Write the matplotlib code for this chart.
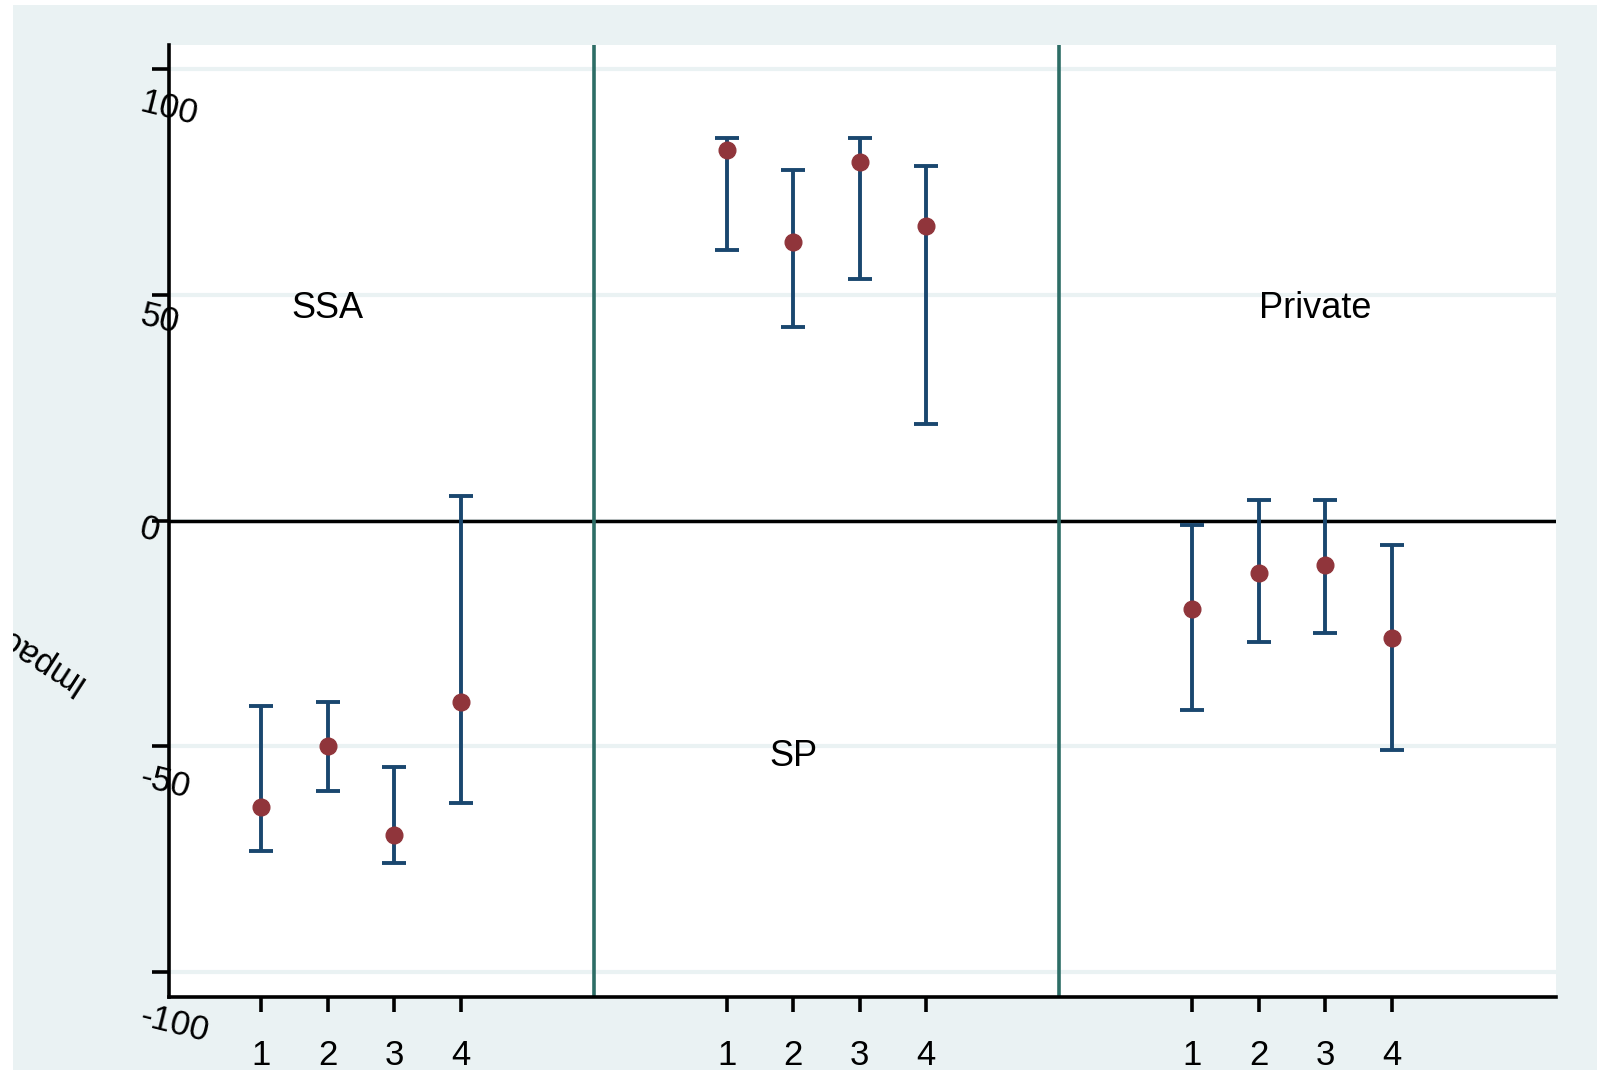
import matplotlib
matplotlib.use("Agg")
import matplotlib.pyplot as plt
import matplotlib.transforms as mtransforms
from matplotlib.patches import Rectangle
import numpy as np

plt.rcParams['font.family'] = ['Liberation Sans', 'DejaVu Sans']

# data
xpos = [1, 2, 3, 4, 8, 9, 10, 11, 15, 16, 17, 18]
xlabels = ['1', '2', '3', '4'] * 3
est = np.array([-63.4, -50.0, -69.6, -40.2, 82.1, 61.6, 79.5, 65.2, -19.6, -11.6, -9.8, -25.9])
lo = np.array([-73.2, -59.8, -75.8, -62.5, 59.8, 42.9, 53.5, 21.4, -42.0, -26.8, -25.0, -50.9])
hi = np.array([-41.1, -40.2, -54.5, 5.4, 84.8, 77.6, 84.8, 78.5, -0.9, 4.5, 4.5, -5.4])
groups = ['SSA', 'SP', 'Private']
group_x = [2, 9, 16.85]
group_y = [47, -52.3, 47]
dividers = [6, 13]
yticks = [-100, -50, 0, 50, 100]

bg = '#eaf2f3'
navy = '#1a476f'
maroon = '#90353b'
teal = '#2d6d66'

W, H = 1597, 1070
fig = plt.figure(figsize=(W / 100, H / 100), dpi=100)
fig.patch.set_facecolor('white')
bgrect = Rectangle((13 / W, 0), 1 - 13 / W, 1 - 5 / H, transform=fig.transFigure,
                   facecolor=bg, edgecolor='none', zorder=-5)
fig.patches.append(bgrect)

ax = fig.add_axes([169 / W, 1 - 997 / H, (1556 - 169) / W, (997 - 45) / H])
ax.set_facecolor('white')
ax.set_axisbelow(True)

ax.errorbar(xpos, est, yerr=[est - lo, hi - est], fmt='none', ecolor=navy,
            elinewidth=2.8, capsize=8.5, capthick=2.8, zorder=3)
ax.plot(xpos, est, 'o', color=maroon, ms=12, zorder=4)

ax.axhline(0, color='black', lw=2.5, zorder=2)
for d in dividers:
    ax.axvline(d, color=teal, lw=2.6, zorder=2)

for g, gx, gy in zip(groups, group_x, group_y):
    ax.text(gx, gy, g, fontsize=26, ha='center', va='center')

ax.set_xlim(-0.383, 20.465)
ax.set_ylim(-105.5, 105.3)

ax.set_xticks(xpos, xlabels)
ax.tick_params(axis='x', length=11, width=2.6, pad=19, labelsize=25)
ax.set_yticks(yticks, [str(t) for t in yticks])
ax.tick_params(axis='y', length=12, width=2.6, pad=8.6, labelsize=25, labelrotation=-14)
ax.yaxis.grid(True, color=bg, lw=3)
ax.xaxis.grid(False)

# odd stata placement of rotated labels
ydrop = {-100: 44, -50: 30, 0: 7, 50: 20, 100: 33}
for t, lab in zip(yticks, ax.get_yticklabels()):
    lab.set_ha('left')
    lab.set_va('center')
    lab.set_rotation_mode('anchor')
    lab.set_transform(lab.get_transform() +
                      mtransforms.ScaledTranslation(0, -ydrop[t] / 100, fig.dpi_scale_trans))

for s in ['top', 'right']:
    ax.spines[s].set_visible(False)
for s in ['left', 'bottom']:
    ax.spines[s].set_linewidth(2.6)

yl = fig.text(84 / W, 1 - 678 / H, 'Impact', fontsize=25, rotation=147,
              rotation_mode='anchor', ha='left', va='baseline')
yl.set_clip_path(bgrect)

fig.savefig('out.png', dpi=100, facecolor=fig.get_facecolor())
